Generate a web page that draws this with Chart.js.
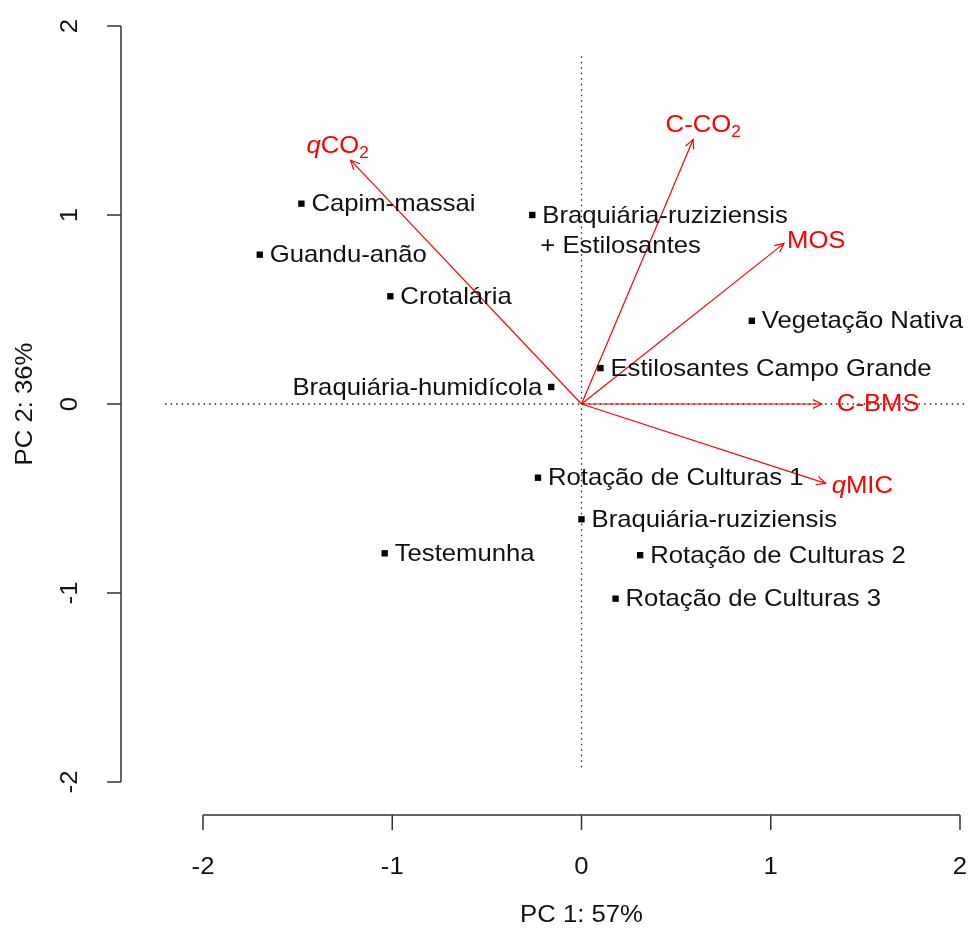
<!DOCTYPE html>
<html>
<head>
<meta charset="utf-8">
<script src="https://cdn.jsdelivr.net/npm/chart.js@4/dist/chart.umd.min.js"></script>
<style>
  body { margin: 0; background: #fff; }
</style>
</head>
<body>
<canvas id="mycanvas" width="968" height="931"></canvas>
<script>
// scores (treatments)
var sites = ['Capim-massai', 'Guandu-anão', 'Crotalária', 'Braquiária-humidícola',
  'Braquiária-ruziziensis\n+ Estilosantes', 'Vegetação Nativa', 'Estilosantes Campo Grande',
  'Rotação de Culturas 1', 'Braquiária-ruziziensis', 'Rotação de Culturas 2',
  'Testemunha', 'Rotação de Culturas 3'];
var pc1 = [-1.48, -1.70, -1.01, -0.16, -0.26, 0.90, 0.10, -0.23, 0.00, 0.31, -1.04, 0.18];
var pc2 = [1.06, 0.79, 0.57, 0.09, 1.00, 0.44, 0.19, -0.39, -0.61, -0.80, -0.79, -1.03];

// loadings (variables)
var vars = ['qCO2', 'C-CO2', 'MOS', 'C-BMS', 'qMIC'];
var load1 = [-1.22, 0.59, 1.07, 1.27, 1.29];
var load2 = [1.29, 1.40, 0.85, 0.00, -0.42];

var xTicks = [-2, -1, 0, 1, 2];
var yTicks = [-2, -1, 0, 1, 2];

var FAM = '"Liberation Sans", Arial, sans-serif';
var FONT = '24px ' + FAM;
var STRETCH = 1.07;
var RED = '#ff0000';

var pts = [];
for (var i in sites) pts.push({x: pc1[i], y: pc2[i]});

var datasets = [{
  label: 'sites',
  data: pts,
  pointStyle: 'rect',
  pointRadius: 4.5,
  backgroundColor: '#000',
  borderColor: '#000',
  borderWidth: 0
}];
for (var j in vars) {
  datasets.push({
    label: vars[j],
    data: [{x: 0, y: 0}, {x: load1[j], y: load2[j]}],
    showLine: true,
    pointRadius: 0,
    borderColor: RED,
    borderWidth: 1.2
  });
}

// how each arrow label sits next to its tip (pixels)
var varLabelPos = [
  {dx: -13, dy: -14, align: 'center'},
  {dx: 10, dy: -14, align: 'center'},
  {dx: 3, dy: -2, align: 'left'},
  {dx: 15, dy: 0, align: 'left'},
  {dx: 6, dy: 3, align: 'left'}
];

// text slightly wider than the font, like the original graphic
function textW(ctx, t) { return ctx.measureText(t).width * STRETCH; }
function fillText(ctx, t, x, y, align, rot) {
  var w = textW(ctx, t);
  ctx.save();
  ctx.translate(x, y);
  if (rot) ctx.rotate(rot);
  ctx.scale(STRETCH, 1);
  ctx.textAlign = 'left';
  var sx = align === 'center' ? -w / 2 : align === 'right' ? -w : 0;
  ctx.fillText(t, sx / STRETCH, 0);
  ctx.restore();
}

function drawVarLabel(ctx, name, x, y, align) {
  // split into italic q, body and subscript 2
  var parts = [];
  if (name.charAt(0) === 'q') { parts.push({t: 'q', f: 'italic ' + FONT, dy: 0}); name = name.slice(1); }
  if (name.slice(-3) === 'CO2') {
    parts.push({t: name.slice(0, -1), f: FONT, dy: 0});
    parts.push({t: '2', f: '16px ' + FAM, dy: 7});
  } else {
    parts.push({t: name, f: FONT, dy: 0});
  }
  var w = 0;
  parts.forEach(function(p) { ctx.font = p.f; p.w = textW(ctx, p.t); w += p.w; });
  var sx = align === 'center' ? x - w / 2 : x;
  ctx.textBaseline = 'middle';
  ctx.fillStyle = RED;
  parts.forEach(function(p) { ctx.font = p.f; fillText(ctx, p.t, sx, y + p.dy, 'left'); sx += p.w; });
}

var rAxes = {
  id: 'rAxes',
  beforeDatasetsDraw: function(chart) {
    var ctx = chart.ctx, xs = chart.scales.x, ys = chart.scales.y;
    ctx.save();
    ctx.strokeStyle = '#222';
    ctx.lineWidth = 1.3;
    ctx.setLineDash([1.5, 4]);
    ctx.beginPath();
    ctx.moveTo(xs.getPixelForValue(-2.2), ys.getPixelForValue(0));
    ctx.lineTo(xs.getPixelForValue(2.03), ys.getPixelForValue(0));
    ctx.moveTo(xs.getPixelForValue(0), ys.getPixelForValue(1.84));
    ctx.lineTo(xs.getPixelForValue(0), ys.getPixelForValue(-1.94));
    ctx.stroke();
    ctx.restore();
  },
  afterDatasetsDraw: function(chart) {
    var ctx = chart.ctx, xs = chart.scales.x, ys = chart.scales.y;
    ctx.save();

    // arrowheads
    ctx.strokeStyle = RED;
    ctx.lineWidth = 1.2;
    for (var j in vars) {
      var x0 = xs.getPixelForValue(0), y0 = ys.getPixelForValue(0);
      var x1 = xs.getPixelForValue(load1[j]), y1 = ys.getPixelForValue(load2[j]);
      var a = Math.atan2(y1 - y0, x1 - x0), L = 10, s = Math.PI / 7;
      ctx.beginPath();
      ctx.moveTo(x1 - L * Math.cos(a - s), y1 - L * Math.sin(a - s));
      ctx.lineTo(x1, y1);
      ctx.lineTo(x1 - L * Math.cos(a + s), y1 - L * Math.sin(a + s));
      ctx.stroke();
      var lp = varLabelPos[j];
      drawVarLabel(ctx, vars[j], x1 + lp.dx, y1 + lp.dy, lp.align);
    }

    // site labels
    ctx.font = FONT;
    ctx.fillStyle = '#111';
    ctx.textBaseline = 'middle';
    for (var i in sites) {
      var px = xs.getPixelForValue(pc1[i]), py = ys.getPixelForValue(pc2[i]);
      var lines = sites[i].split('\n');
      var left = sites[i] === 'Braquiária-humidícola';
      for (var k = 0; k < lines.length; k++) {
        var lx = left ? px - 9 : px + 10 - (k > 0 ? 2 : 0);
        fillText(ctx, lines[k], lx, py + 1 + k * 30, left ? 'right' : 'left');
      }
    }

    // R style axes
    ctx.strokeStyle = '#333';
    ctx.lineWidth = 1.5;
    ctx.fillStyle = '#111';
    ctx.font = FONT;
    var ay = 815, ax = 121;
    ctx.beginPath();
    ctx.moveTo(xs.getPixelForValue(xTicks[0]), ay);
    ctx.lineTo(xs.getPixelForValue(xTicks[xTicks.length - 1]), ay);
    xTicks.forEach(function(t) {
      ctx.moveTo(xs.getPixelForValue(t), ay);
      ctx.lineTo(xs.getPixelForValue(t), ay + 15);
    });
    ctx.moveTo(ax, ys.getPixelForValue(yTicks[0]));
    ctx.lineTo(ax, ys.getPixelForValue(yTicks[yTicks.length - 1]));
    yTicks.forEach(function(t) {
      ctx.moveTo(ax, ys.getPixelForValue(t));
      ctx.lineTo(ax - 14, ys.getPixelForValue(t));
    });
    ctx.stroke();

    ctx.textBaseline = 'middle';
    xTicks.forEach(function(t) {
      fillText(ctx, String(t), xs.getPixelForValue(t), 867, 'center');
    });
    fillText(ctx, 'PC 1: 57%', xs.getPixelForValue(0), 915, 'center');
    yTicks.forEach(function(t) {
      fillText(ctx, String(t), 70, ys.getPixelForValue(t), 'center', -Math.PI / 2);
    });
    fillText(ctx, 'PC 2: 36%', 25, ys.getPixelForValue(0), 'center', -Math.PI / 2);

    ctx.restore();
  }
};

var ctx = document.getElementById('mycanvas');
var chart = new Chart(ctx, {
  type: 'scatter',
  data: { datasets: datasets },
  options: {
    responsive: false,
    animation: false,
    layout: { padding: { left: 203, right: 8, top: 26, bottom: 149 } },
    plugins: { legend: { display: false }, tooltip: { enabled: false } },
    scales: {
      x: { type: 'linear', min: -2, max: 2, display: false },
      y: { type: 'linear', min: -2, max: 2, display: false }
    }
  },
  plugins: [rAxes]
});
</script>
</body>
</html>
